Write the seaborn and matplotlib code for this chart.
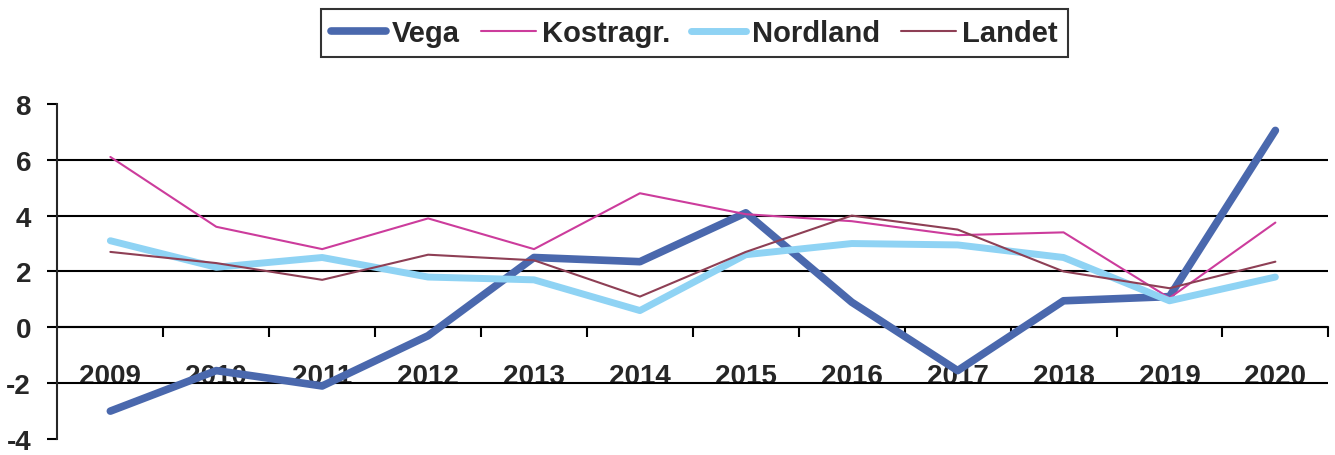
import matplotlib
matplotlib.use("Agg")
import matplotlib.pyplot as plt
import seaborn as sns
import pandas as pd

years = ["2009", "2010", "2011", "2012", "2013", "2014",
         "2015", "2016", "2017", "2018", "2019", "2020"]
vega = [-3.0, -1.55, -2.1, -0.3, 2.5, 2.35, 4.1, 0.9, -1.55, 0.95, 1.1, 7.05]
kostragr = [6.1, 3.6, 2.8, 3.9, 2.8, 4.8, 4.05, 3.8, 3.3, 3.4, 1.05, 3.75]
nordland = [3.1, 2.15, 2.5, 1.8, 1.7, 0.6, 2.6, 3.0, 2.95, 2.5, 0.95, 1.8]
landet = [2.7, 2.3, 1.7, 2.6, 2.4, 1.1, 2.7, 4.0, 3.5, 2.0, 1.4, 2.35]

series = {"Vega": vega, "Kostragr.": kostragr, "Nordland": nordland, "Landet": landet}
colors = {"Vega": "#4a68ad", "Kostragr.": "#cc3c9c", "Nordland": "#8fd3f4", "Landet": "#8e3f55"}
widths = {"Vega": 5.5, "Kostragr.": 1.5, "Nordland": 5, "Landet": 1.5}

sns.set_style("white")
plt.rcParams["font.family"] = ["Liberation Sans", "DejaVu Sans"]
plt.rcParams["font.weight"] = "bold"
plt.rcParams["axes.unicode_minus"] = False

fig = plt.figure(figsize=(13.35, 4.56), dpi=100)
ax = fig.add_axes([0.043, 0.035, 0.952, 0.735])

for name, vals in series.items():
    df = pd.DataFrame({"pos": range(len(years)), "value": vals})
    sns.lineplot(data=df, x="pos", y="value", ax=ax, color=colors[name],
                 linewidth=widths[name], label=name, legend=False,
                 solid_capstyle="round", solid_joinstyle="round")

ax.set_xlim(-0.5, len(years) - 0.5)
ax.set_ylim(-4, 8)
ax.set_yticks([-4, -2, 0, 2, 4, 6, 8])
ax.set_xticks(range(len(years)))
ax.set_xticklabels(years)
ax.set_xticks([i + 0.5 for i in range(len(years))], minor=True)
ax.set_xlabel("")
ax.set_ylabel("")

ax.yaxis.grid(True, color="black", linewidth=1.5)
ax.set_axisbelow(True)
for gl, t in zip(ax.get_ygridlines(), ax.get_yticks()):
    if t in (-4, 8):
        gl.set_visible(False)

for s in ["top", "right"]:
    ax.spines[s].set_visible(False)
ax.spines["bottom"].set_position(("data", 0))
ax.spines["bottom"].set_linewidth(1.5)
ax.spines["left"].set_linewidth(1.5)
ax.spines["bottom"].set_zorder(0.5)

ax.tick_params(axis="x", which="major", bottom=True, length=0, pad=26, labelsize=20)
ax.tick_params(axis="x", which="minor", bottom=True, length=7, width=1.5,
               direction="out", color="black")
ax.tick_params(axis="y", left=True, length=7, width=1.5, color="black",
               labelsize=20, pad=12)
for lab in ax.get_xticklabels() + ax.get_yticklabels():
    lab.set_fontweight("bold")

handles, labels = ax.get_legend_handles_labels()
leg = fig.legend(handles, labels, loc="center", bbox_to_anchor=(0.52, 0.925),
                 ncol=4, frameon=True, fancybox=False, edgecolor="black",
                 handlelength=1.9, handletextpad=0.2,
                 columnspacing=0.7, borderpad=0.35,
                 prop={"weight": "bold", "size": 21})
leg.get_frame().set_linewidth(1.5)

fig.savefig("out.png", dpi=100)
